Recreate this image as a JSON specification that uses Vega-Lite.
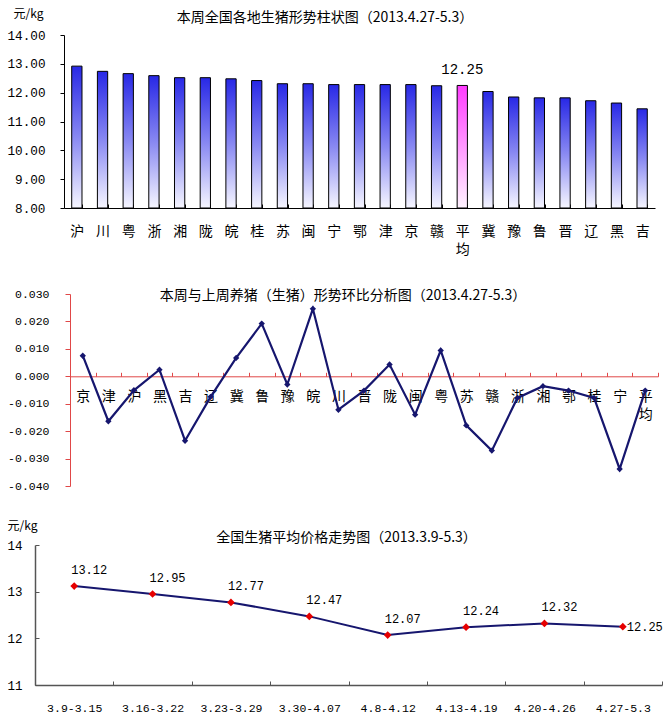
{
  "$schema": "https://vega.github.io/schema/vega-lite/v6.json",
  "background": "white",
  "padding": {"left": 0, "top": 7, "right": 0, "bottom": 0},
  "config": {
    "view": {"stroke": null},
    "axis": {"grid": false, "labelColor": "black", "domainColor": "black", "tickColor": "black", "titleFontWeight": "normal", "titleColor": "black"},
    "title": {"font": "Noto Sans CJK SC", "fontWeight": "normal", "color": "black", "anchor": "middle", "frame": "group", "baseline": "bottom"}
  },
  "datasets": {
    "bars": [
      {"region": "沪", "price": 12.92},
      {"region": "川", "price": 12.74},
      {"region": "粤", "price": 12.66},
      {"region": "浙", "price": 12.59},
      {"region": "湘", "price": 12.52},
      {"region": "陇", "price": 12.52},
      {"region": "皖", "price": 12.48},
      {"region": "桂", "price": 12.42},
      {"region": "苏", "price": 12.31},
      {"region": "闽", "price": 12.31},
      {"region": "宁", "price": 12.28},
      {"region": "鄂", "price": 12.28},
      {"region": "津", "price": 12.28},
      {"region": "京", "price": 12.28},
      {"region": "赣", "price": 12.24},
      {"region": "平均", "price": 12.25},
      {"region": "冀", "price": 12.04},
      {"region": "豫", "price": 11.85},
      {"region": "鲁", "price": 11.82},
      {"region": "晋", "price": 11.82},
      {"region": "辽", "price": 11.72},
      {"region": "黑", "price": 11.64},
      {"region": "吉", "price": 11.44}
    ],
    "mom": [
      {"region": "京", "change": 0.0075},
      {"region": "津", "change": -0.0164},
      {"region": "沪", "change": -0.0051},
      {"region": "黑", "change": 0.0024},
      {"region": "吉", "change": -0.0235},
      {"region": "辽", "change": -0.0075},
      {"region": "冀", "change": 0.0067},
      {"region": "鲁", "change": 0.0192},
      {"region": "豫", "change": -0.0030},
      {"region": "皖", "change": 0.0246},
      {"region": "川", "change": -0.0122},
      {"region": "晋", "change": -0.0052},
      {"region": "陇", "change": 0.0043},
      {"region": "闽", "change": -0.0140},
      {"region": "粤", "change": 0.0094},
      {"region": "苏", "change": -0.0179},
      {"region": "赣", "change": -0.0271},
      {"region": "浙", "change": -0.0079},
      {"region": "湘", "change": -0.0036},
      {"region": "鄂", "change": -0.0052},
      {"region": "桂", "change": -0.0079},
      {"region": "宁", "change": -0.0338},
      {"region": "平均", "change": -0.0052}
    ],
    "trend": [
      {"period": "3.9-3.15", "price": 13.12},
      {"period": "3.16-3.22", "price": 12.95},
      {"period": "3.23-3.29", "price": 12.77},
      {"period": "3.30-4.07", "price": 12.47},
      {"period": "4.8-4.12", "price": 12.07},
      {"period": "4.13-4.19", "price": 12.24},
      {"period": "4.20-4.26", "price": 12.32},
      {"period": "4.27-5.3", "price": 12.25}
    ]
  },
  "columns": 1,
  "bounds": "full",
  "spacing": 27,
  "concat": [
    {
      "width": 620,
      "height": 173,
      "title": {"text": "本周全国各地生猪形势柱状图（2013.4.27-5.3）", "fontSize": 14, "dx": -20, "offset": -18},
      "data": {"name": "bars"},
      "encoding": {
        "x": {
          "field": "region", "type": "nominal", "sort": null,
          "scale": {"type": "band", "paddingInner": 0.6, "paddingOuter": 0.3, "range": [29, 620]},
          "axis": {"title": null, "labelAngle": 0, "labelFont": "Noto Sans CJK SC", "labelFontSize": 14, "labelPadding": 20, "labelLineHeight": 18, "tickBand": "extent", "tickSize": -4, "minExtent": 53,
            "labelExpr": "datum.value == '平均' ? ['平', '均'] : datum.value"}
        },
        "y": {
          "field": "price", "type": "quantitative",
          "scale": {"domain": [8, 14], "nice": false, "zero": false},
          "axis": {"values": [8, 9, 10, 11, 12, 13, 14], "format": ".2f", "labelFont": "Liberation Mono", "labelFontSize": 12.7, "tickSize": 4, "labelPadding": 15, "offset": -29, "minExtent": 0,
            "title": "元/kg", "titleAngle": 0, "titleX": -51, "titleY": -22, "titleAlign": "left", "titleBaseline": "middle", "titleFont": "Noto Sans CJK SC", "titleFontSize": 12}
        }
      },
      "layer": [
        {
          "mark": {"type": "bar", "stroke": "black", "strokeWidth": 1},
          "encoding": {
            "y2": {"datum": 8},
            "fill": {
              "condition": {"test": "datum.region == '平均'", "value": {"gradient": "linear", "x1": 0, "y1": 0, "x2": 0, "y2": 1, "stops": [{"offset": 0, "color": "#ff3cff"}, {"offset": 1, "color": "#fff4ff"}]}},
              "value": {"gradient": "linear", "x1": 0, "y1": 0, "x2": 0, "y2": 1, "stops": [{"offset": 0, "color": "#2828e6"}, {"offset": 0.5, "color": "#8888f2"}, {"offset": 1, "color": "#f6f6ff"}]}
            }
          }
        },
        {
          "mark": {"type": "text", "font": "Liberation Mono", "fontSize": 14, "dy": -15, "baseline": "middle", "color": "black"},
          "encoding": {
            "text": {"condition": {"test": "datum.region == '平均'", "field": "price", "format": ".2f"}, "value": ""}
          }
        }
      ]
    },
    {
      "width": 623,
      "height": 192,
      "title": {"text": "本周与上周养猪（生猪）形势环比分析图（2013.4.27-5.3）", "fontSize": 14, "dx": -3.5, "offset": -14.5},
      "data": {"name": "mom"},
      "encoding": {
        "x": {
          "field": "region", "type": "nominal", "sort": null,
          "scale": {"type": "band", "paddingInner": 0, "paddingOuter": 0, "range": [35, 623]},
          "axis": {"title": null, "labelAngle": 0, "labelFont": "Noto Sans CJK SC", "labelFontSize": 14, "labelPadding": 17, "labelLineHeight": 18, "tickBand": "extent", "tickSize": -4, "offset": -109.7,
            "domainColor": "#e04848", "tickColor": "#e04848",
            "labelExpr": "datum.value == '平均' ? ['平', '均'] : datum.value"}
        },
        "y": {
          "field": "change", "type": "quantitative",
          "scale": {"domain": [-0.04, 0.03], "nice": false, "zero": false},
          "axis": {"values": [-0.04, -0.03, -0.02, -0.01, 0, 0.01, 0.02, 0.03], "labelExpr": "replace(format(datum.value, '.3f'), '−', '-')", "labelFont": "Liberation Mono", "labelFontSize": 11.5, "tickSize": 5, "labelPadding": 16, "offset": -35, "minExtent": 0, "title": null,
            "domainColor": "#e04848", "tickColor": "#e04848"}
        }
      },
      "layer": [
        {"mark": {"type": "line", "color": "#16166e", "strokeWidth": 2.2}},
        {"mark": {"type": "point", "shape": "diamond", "filled": true, "color": "#16166e", "size": 40, "opacity": 1}}
      ]
    },
    {
      "width": 627,
      "height": 140,
      "title": {"text": "全国生猪平均价格走势图（2013.3.9-5.3）", "fontSize": 14, "dx": -2, "offset": -25.5},
      "data": {"name": "trend"},
      "encoding": {
        "x": {
          "field": "period", "type": "nominal", "sort": null,
          "scale": {"type": "band", "paddingInner": 0, "paddingOuter": 0},
          "axis": {"title": null, "labelAngle": 0, "labelFont": "Liberation Mono", "labelFontSize": 11.5, "labelPadding": 21, "tickBand": "extent", "tickSize": -4, "domainColor": "#555555", "tickColor": "#555555", "domainWidth": 1.5}
        },
        "y": {
          "field": "price", "type": "quantitative",
          "scale": {"domain": [11, 14], "nice": false, "zero": false},
          "axis": {"values": [11, 12, 13, 14], "format": "d", "labelFont": "Liberation Mono", "labelFontSize": 12.5, "tickSize": -4, "labelPadding": 17, "minExtent": 35, "domainColor": "#555555", "tickColor": "#555555", "domainWidth": 1.5,
            "title": "元/kg", "titleAngle": 0, "titleX": -28, "titleY": -20, "titleAlign": "left", "titleBaseline": "middle", "titleFont": "Noto Sans CJK SC", "titleFontSize": 12}
        }
      },
      "layer": [
        {"mark": {"type": "line", "color": "#16166e", "strokeWidth": 2}},
        {"mark": {"type": "point", "shape": "diamond", "filled": true, "color": "#e60000", "size": 60, "opacity": 1}},
        {
          "mark": {"type": "text", "font": "Liberation Mono", "fontSize": 12, "dx": 15, "dy": -16, "baseline": "middle", "align": "center", "color": "black"},
          "encoding": {"text": {"condition": {"test": "datum.period != '4.27-5.3'", "field": "price", "format": ".2f"}, "value": ""}}
        },
        {
          "mark": {"type": "text", "font": "Liberation Mono", "fontSize": 12, "dx": 4, "dy": 0, "baseline": "middle", "align": "left", "color": "black"},
          "encoding": {"text": {"condition": {"test": "datum.period == '4.27-5.3'", "field": "price", "format": ".2f"}, "value": ""}}
        }
      ]
    }
  ]
}
